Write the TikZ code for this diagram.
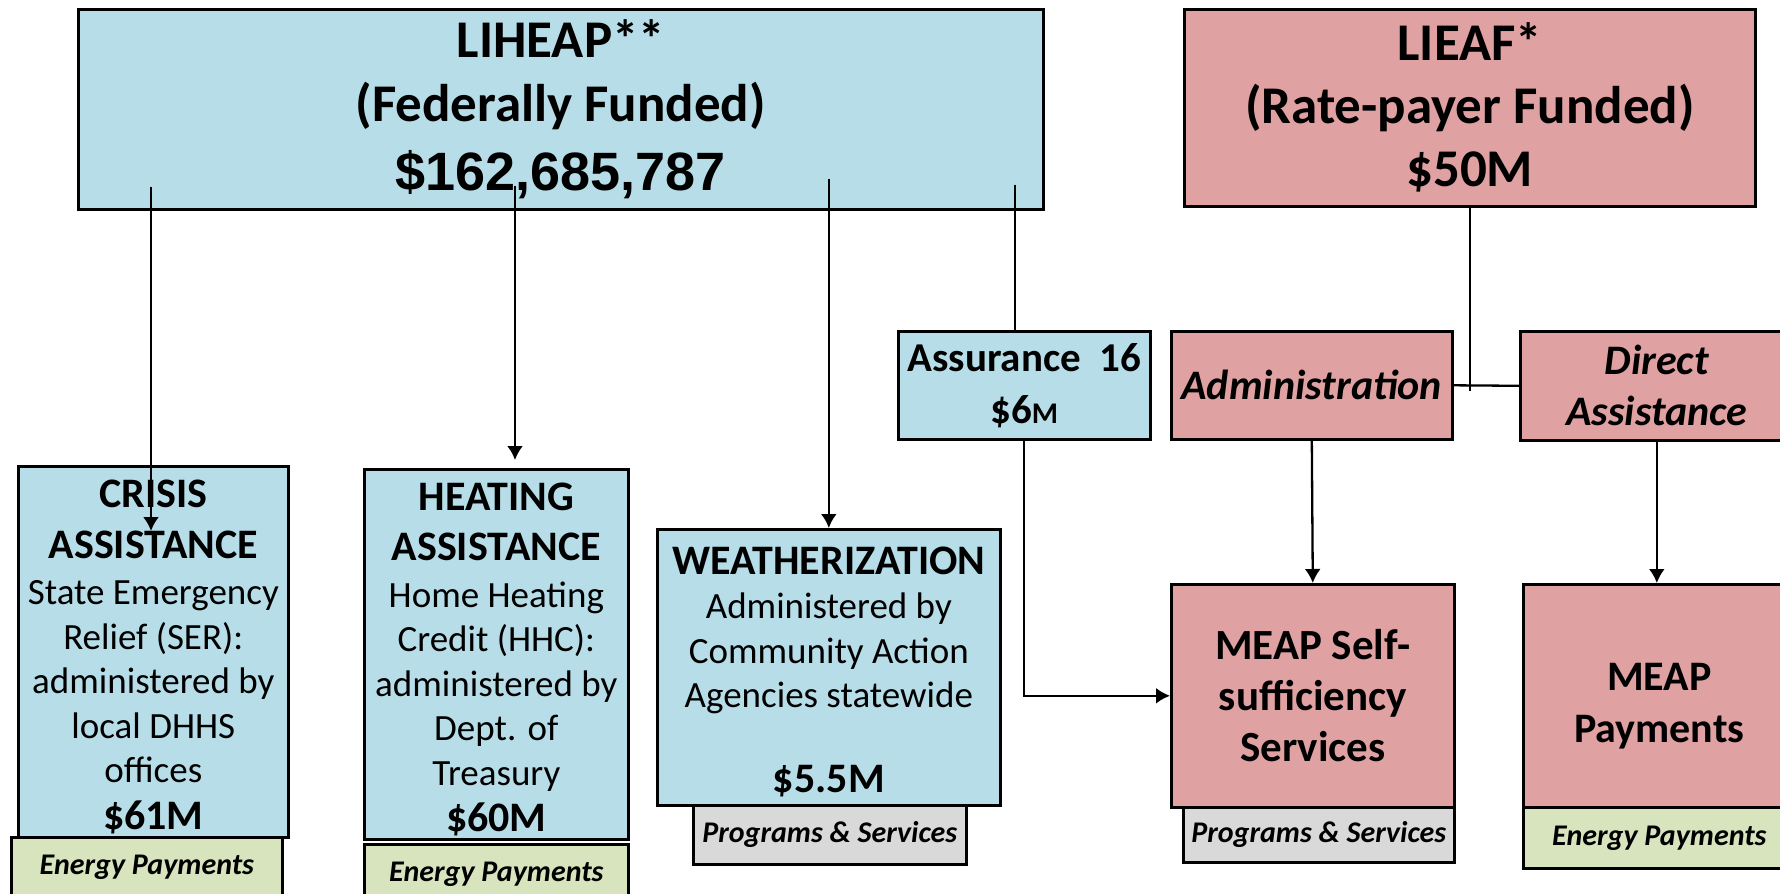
\documentclass[tikz,border=0pt]{standalone}
\usepackage{fontspec}
\setmainfont{Carlito}
\newfontfamily\numfont{Liberation Sans}
\usepackage{xcolor}
\usepackage{tikz}
\usetikzlibrary{positioning,arrows.meta}
\definecolor{fedblue}{HTML}{B7DEE8}
\definecolor{ratepink}{HTML}{DFA1A1}
\definecolor{paygreen}{HTML}{D7E4BD}
\definecolor{proggrey}{HTML}{D9D9D9}
\newcommand{\hd}[1]{{\fontsize{42}{51}\selectfont\bfseries #1}}
\tikzset{
    box/.style={
        rectangle,
        draw=black,
        line width=2.6pt,
        inner sep=0pt,
        align=center,
        anchor=north west
    },
    arrow/.style={
        -{Latex[length=14pt,width=16pt]},
        line width=2.3pt
    }
}
\tikzstyle{fedbox} = [box, fill=fedblue, font=\fontsize{37}{44.5}\selectfont]
\tikzstyle{ratebox} = [box, fill=ratepink, font=\fontsize{43}{51}\selectfont\bfseries]
\tikzstyle{headbox} = [box, font=\fontsize{53}{64}\selectfont\bfseries]
\tikzstyle{paytag} = [box, fill=paygreen, font=\fontsize{30}{34}\selectfont\bfseries\itshape]
\tikzstyle{progtag} = [box, fill=proggrey, font=\fontsize{30}{34}\selectfont\bfseries\itshape]
\tikzstyle{link} = [line width=2.3pt]

\begin{document}
\begin{tikzpicture}[x=1pt, y=-1pt]
          \useasboundingbox (0,0) rectangle (1780,894);
          % funding sources
          \node (liheap) [headbox, fill=fedblue, minimum width=965pt, minimum height=200pt] at (77,8)
              {LIHEAP**\\(Federally Funded)\\[5pt]{\numfont\fontsize{54}{64}\selectfont \$162,685,787}};
          \node (lieaf) [headbox, fill=ratepink, font=\fontsize{53}{63}\selectfont\bfseries, minimum width=571pt, minimum height=197pt] at (1183,8)
              {LIEAF*\\(Rate-payer Funded)\\\$50M};
          % LIHEAP programs
          \node (crisis) [fedbox, minimum width=270pt, minimum height=371pt] at (17,465)
              {\rule{0pt}{38pt}\hd{CRISIS}\\[6pt]\hd{ASSISTANCE}\\[2pt]State Emergency\\Relief (SER):\\administered by\\local DHHS\\offices\\[2pt]\hd{\$61M}};
          \node (crisistag) [paytag, minimum width=271pt, minimum height=60pt] at (10,836) {Energy Payments};
          \node (heating) [fedbox, minimum width=264pt, minimum height=370pt] at (363,468)
              {\rule{0pt}{38pt}\hd{HEATING}\\[6pt]\hd{ASSISTANCE}\\[2pt]Home Heating\\Credit (HHC):\\administered by\\Dept. of\\Treasury\\[2pt]\hd{\$60M}};
          \node (heatingtag) [paytag, minimum width=264pt, minimum height=60pt] at (363,843) {Energy Payments};
          \node (weather) [fedbox, minimum width=343pt, minimum height=276pt] at (656,528)
              {\rule{0pt}{36pt}\hd{WEATHERIZATION}\\Administered by\\Community Action\\Agencies statewide\\[40pt]\hd{\$5.5M}};
          \node (weathertag) [progtag, minimum width=273pt, minimum height=59pt] at (692,804) {Programs \& Services};
          \node (assure) [fedbox, font=\fontsize{41}{52}\selectfont\bfseries, minimum width=252pt, minimum height=108pt] at (897,330)
              {Assurance~~16\\\$6{\fontsize{30}{30}\selectfont M}};
          % LIEAF programs
          \node (admin) [ratebox, font=\fontsize{42}{51}\selectfont\bfseries\itshape, minimum width=281pt, minimum height=108pt] at (1170,330)
              {Administration};
          \node (direct) [ratebox, font=\fontsize{42}{51}\selectfont\bfseries\itshape, minimum width=273pt, minimum height=109pt] at (1519,330)
              {Direct\\Assistance};
          \node (selfserv) [ratebox, minimum width=283pt, minimum height=223pt] at (1170,583)
              {MEAP Self-\\sufficiency\\Services};
          \node (selftag) [progtag, minimum width=271pt, minimum height=55pt] at (1182,806) {Programs \& Services};
          \node (payments) [ratebox, font=\fontsize{42}{52}\selectfont\bfseries, minimum width=272pt, minimum height=223pt] at (1522,583)
              {\rule{0pt}{47pt}MEAP\\Payments};
          \node (paytag) [paytag, minimum width=272pt, minimum height=61pt] at (1522,806) {Energy Payments};
          % connectors
          \coordinate (crisisTip) at (151,531);
          \coordinate (heatingTip) at (515,460);
          \coordinate (assureIn) at (1015,330);
          \draw [arrow] ([yshift=24pt]liheap.south -| crisisTip) -- (crisisTip);
          \draw [arrow] ([yshift=25pt]liheap.south -| heatingTip) -- (heatingTip);
          \draw [arrow] ([yshift=32pt]liheap.south -| weather.north) -- (weather.north);
          \draw [link] ([yshift=26pt]liheap.south -| assureIn) -- (assureIn);
          \draw [arrow] (assure.south) |- (selfserv.west);
          \draw [link] (admin.east) -- (direct.west);
          \draw [link] (lieaf.south) -- ([yshift=-6pt]lieaf.south |- admin.east);
          \draw [arrow] (admin.south) -- (selfserv.north);
          \draw [arrow] (direct.south) -- (direct.south |- payments.north);
        \end{tikzpicture}
\end{document}
